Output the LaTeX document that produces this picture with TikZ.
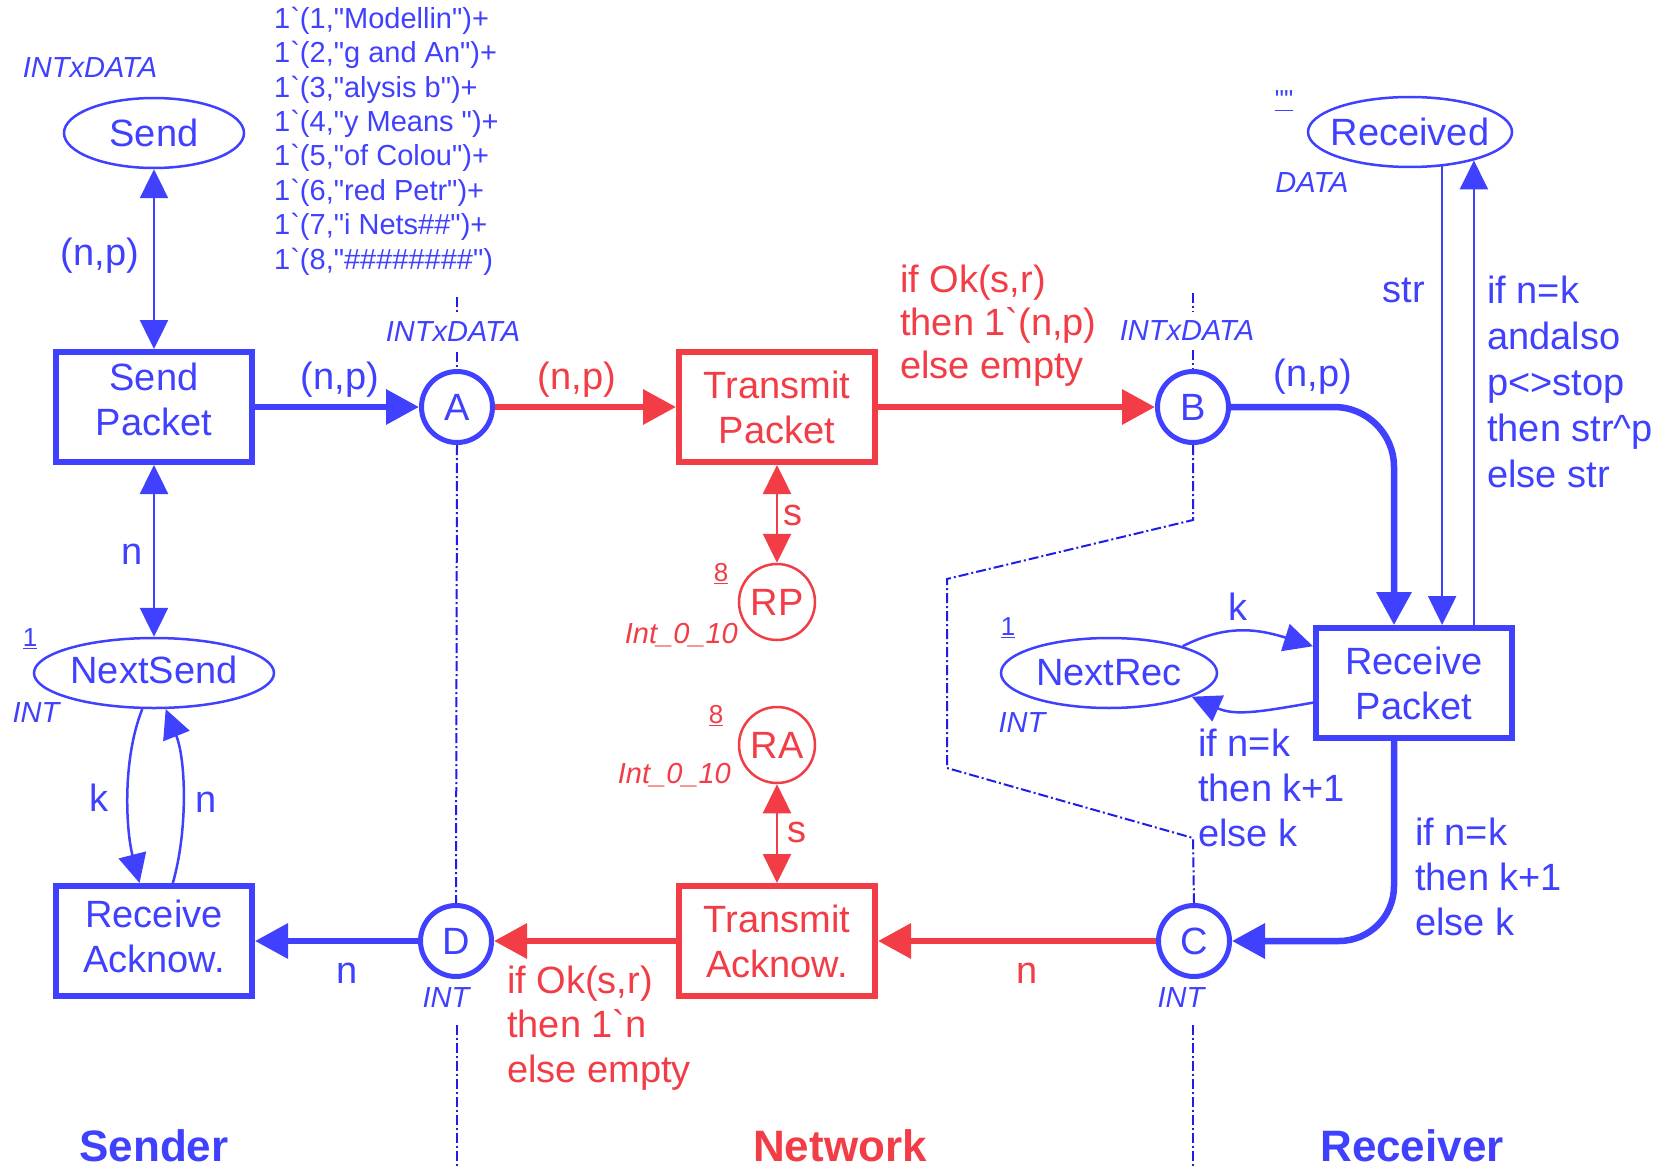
\documentclass[tikz,border=0pt]{standalone}
\usepackage{fontspec}
\newfontfamily\arialf{Liberation Sans}
\usetikzlibrary{arrows.meta,shapes.geometric,calc}
\definecolor{pb}{RGB}{64,64,255}
\definecolor{pr}{RGB}{242,60,70}
\definecolor{db}{RGB}{30,30,235}
\begin{document}
\begin{tikzpicture}[x=1pt,y=-1pt,
  every node/.style={font=\arialf\fontsize{38}{45}\selectfont, inner sep=0pt},
  trans/.style={draw, line width=6pt, minimum width=196pt, minimum height=110pt, align=center},
  bplace/.style={circle, draw, line width=5pt, minimum size=71pt},
  eplace/.style={ellipse, draw, line width=2.5pt, minimum height=70pt},
  cplace/.style={circle, draw, line width=2.5pt, minimum size=76pt},
  thickarc/.style={line width=6.5pt, -{Triangle[length=33pt,width=34pt]}},
  thinarc/.style={line width=2.5pt, -{Triangle[length=29pt,width=28pt]}},
  dthinarc/.style={line width=2.5pt, {Triangle[length=29pt,width=28pt]}-{Triangle[length=29pt,width=28pt]}},
  typ/.style={font=\arialf\itshape\fontsize{29}{34}\selectfont},
  mrk/.style={font=\arialf\fontsize{26}{30}\selectfont},
  lab/.style={anchor=west, align=left},
  divline/.style={db, line width=2pt, dash pattern=on 10pt off 3pt on 2pt off 3pt},
  sec/.style={font=\arialf\bfseries\fontsize{44}{50}\selectfont}
]
\useasboundingbox (0,0) rectangle (1665,1169);
\fill[white] (0,0) rectangle (1665,1169);
\clip (0,0) rectangle (1665,1169);

% places and transitions
\node[eplace, pb, minimum width=180pt] (Send) at (154,133) {\makebox[0pt]{Send}};
\node[trans, pb, text depth=16pt] (SendP) at (154,407) {Send\\Packet};
\node[bplace, pb] (A) at (457,407) {A};
\node[trans, pr] (TP) at (777,407) {Transmit\\Packet};
\node[bplace, pb] (B) at (1193,407) {B};
\node[eplace, pb, minimum width=204pt] (Rec) at (1410,132) {\makebox[0pt]{Received}};
\node[trans, pb] (RecP) at (1414,683) {Receive\\Packet};
\node[eplace, pb, minimum width=216pt] (NR) at (1109,673) {\makebox[0pt]{NextRec}};
\node[eplace, pb, minimum width=240pt] (NS) at (154,673) {\makebox[0pt]{\raisebox{7pt}{NextSend}}};
\node[cplace, pr] (RP) at (777,602) {RP};
\node[cplace, pr] (RA) at (777,745) {RA};
\node[trans, pr] (TA) at (777,941) {Transmit\\Acknow.};
\node[trans, pb, text depth=10pt] (RecA) at (154,941) {Receive\\Acknow.};
\node[bplace, pb] (D) at (456,941) {D};
\node[bplace, pb] (C) at (1194,941) {C};
\coordinate (bx) at (1394,683);

% divider lines
\draw[divline] (457,297) -- (457,315);
\draw[divline] (457,352) -- (A.north);
\draw[divline] (A.south) -- (D.north);
\draw[divline] (457,1025) -- (457,1169);
\draw[divline] (1193,293) -- (1193,312);
\draw[divline] (1193,350) -- (B.north);
\draw[divline] (B.south) -- (1193,520) -- (947,579) -- (947,768) -- (1193,838) -- (C.north);
\draw[divline] (1193,1025) -- (1193,1169);

% thick arcs
\draw[thickarc, pb] (SendP) -- (A);
\draw[thickarc, pr] (A) -- (TP);
\draw[thickarc, pr] (TP) -- (B);
\draw[thickarc, pb, rounded corners=60pt] (B) -- (B -| bx) -- (bx |- RecP.north);
\draw[thickarc, pb, rounded corners=55pt] (RecP.south -| bx) -- (bx |- C) -- (C);
\draw[thickarc, pr] (C) -- (TA);
\draw[thickarc, pr] (TA) -- (D);
\draw[thickarc, pb] (D) -- (RecA);

% thin arcs
\draw[dthinarc, pb] (Send) -- (SendP);
\draw[dthinarc, pb] (SendP) -- (NS);
\draw[dthinarc, pr] (TP) -- (RP);
\draw[dthinarc, pr] (RA) -- (TA);
\draw[thinarc, pb] (Rec.-47) -- (Rec.-47 |- RecP.north);
\draw[thinarc, pb] (Rec.-24 |- RecP.north) -- (Rec.-24);
\draw[thinarc, pb] (NS.-108) .. controls (122,760) and (126,830) .. (RecA.104);
\draw[thinarc, pb] (RecA.72) .. controls (188,830) and (186,760) .. (NS.-72);
\draw[thinarc, pb] (NR.20) .. controls (1225,625) and (1255,628) .. (RecP.160);
\draw[thinarc, pb] (RecP.191) .. controls (1260,712) and (1235,716) .. (NR.-16);

% inscriptions
\node[pb, typ] at (90,68) {INTxDATA};
\node[pb] at (100,256) {(n,p)};
\node[pb, anchor=west, align=left, font=\arialf\fontsize{29}{34.4}\selectfont] at (274,141)
 {1`(1,"Modellin")+\\1`(2,"g and An")+\\1`(3,"alysis b")+\\1`(4,"y Means ")+\\1`(5,"of Colou")+\\1`(6,"red Petr")+\\1`(7,"i Nets\#\#")+\\1`(8,"\#\#\#\#\#\#\#\#")};
\node[pb] at (340,380) {(n,p)};
\node[pr] at (577,380) {(n,p)};
\node[pb, typ] at (453,332) {INTxDATA};
\node[pb, typ] at (1187,331) {INTxDATA};
\node[pr, lab, font=\arialf\fontsize{38}{43}\selectfont] at (900,326) {if Ok(s,r)\\then 1`(n,p)\\else empty};
\node[pb] at (1313,377) {(n,p)};
\node[pb, mrk] at (1284,101) {\underline{""}};
\node[pb, typ] at (1312,183) {DATA};
\node[pb] at (1404,290) {str};
\node[pb, lab, font=\arialf\fontsize{38}{46}\selectfont] at (1487,382) {if n=k\\andalso\\p<>stop\\then str\textasciicircum p\\else str};
\node[pb] at (1238,607) {k};
\node[pb, mrk] at (1008,628) {\underline{1}};
\node[pb, typ] at (1022,723) {INT};
\node[pb, lab] at (1198,788) {if n=k\\then k+1\\else k};
\node[pb, lab] at (1415,877) {if n=k\\then k+1\\else k};
\node[pr] at (793,515) {s};
\node[pr, mrk] at (721,574) {\underline{8}};
\node[pr, typ, anchor=east] at (738,635) {Int\_0\_10};
\node[pr, mrk] at (716,716) {\underline{8}};
\node[pr, typ, anchor=east] at (731,775) {Int\_0\_10};
\node[pr] at (797,832) {s};
\node[pr] at (1027,973) {n};
\node[pb] at (347,973) {n};
\node[pr, lab, font=\arialf\fontsize{38}{44.5}\selectfont] at (507,1028) {if Ok(s,r)\\then 1`n\\else empty};
\node[pb, typ] at (446,998) {INT};
\node[pb, typ] at (1181,998) {INT};
\node[pb] at (132,554) {n};
\node[pb, mrk] at (30,639) {\underline{1}};
\node[pb, typ] at (36,713) {INT};
\node[pb] at (99,798) {k};
\node[pb] at (206,802) {n};
\node[pb, sec] at (154,1146) {Sender};
\node[pr, sec] at (840,1146) {Network};
\node[pb, sec] at (1412,1146) {Receiver};
\end{tikzpicture}
\end{document}
